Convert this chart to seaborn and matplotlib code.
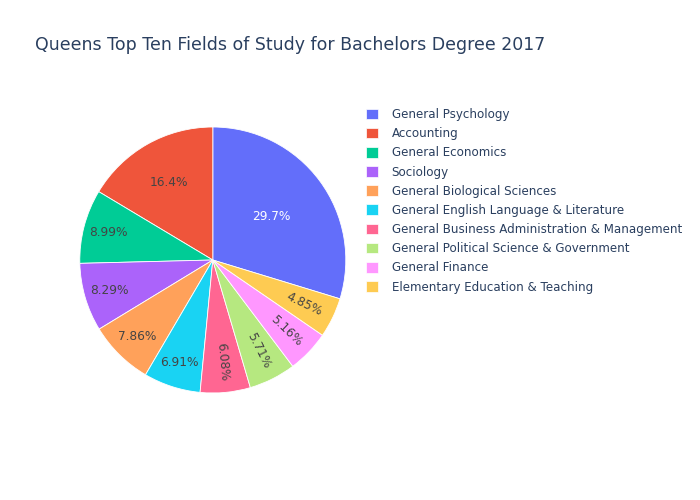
import matplotlib
matplotlib.use('Agg')
import numpy as np
import matplotlib.pyplot as plt
import matplotlib.patches as mpatches
import seaborn as sns

# data (percent share of bachelors degrees)
fields = ['General Psychology', 'Accounting', 'General Economics', 'Sociology',
          'General Biological Sciences', 'General English Language & Literature',
          'General Business Administration & Management',
          'General Political Science & Government', 'General Finance',
          'Elementary Education & Teaching']
shares = [29.7, 16.4, 8.99, 8.29, 7.86, 6.91, 6.08, 5.71, 5.16, 4.85]
colors = ['#636EFA', '#EF553B', '#00CC96', '#AB63FA', '#FFA15A',
          '#19D3F3', '#FF6692', '#B6E880', '#FF97FF', '#FECB52']
title = 'Queens Top Ten Fields of Study for Bachelors Degree 2017'

sns.set_theme(style='white')
plt.rcParams['font.family'] = ['DejaVu Sans']
text_color = '#2a3f5f'

fig = plt.figure(figsize=(7, 5), dpi=100)
ax = fig.add_axes([0.304 - 0.19, 0.48 - 0.266, 0.38, 0.532])

palette = sns.color_palette(colors)
total = sum(shares)
start = 90 - shares[0] / total * 360  # largest slice ends at 12 o'clock

wedges, texts, autotexts = ax.pie(
    shares, colors=palette, startangle=start, counterclock=True,
    autopct=lambda p: f'{p:.3g}%', pctdistance=0.75,
    wedgeprops=dict(edgecolor='white', linewidth=0.6),
    textprops=dict(fontsize=8.7, color='#444444'))

for w, t, s in zip(wedges, autotexts, shares):
    share = s / total * 100
    mid = (w.theta1 + w.theta2) / 2
    if share > 25:
        r = 0.55
        t.set_color('white')
    elif share > 12:
        r = 0.67
    elif share < 6.5:
        r = 0.765
        t.set_rotation(mid - 360)
        t.set_rotation_mode('anchor')
    else:
        r = 0.81
    t.set_position((r * np.cos(np.radians(mid)), r * np.sin(np.radians(mid))))
    t.set_ha('center')
    t.set_va('center')

ax.set_xlim(-1, 1)
ax.set_ylim(-1, 1)
ax.set_aspect('equal')

handles = [mpatches.Patch(facecolor=c, edgecolor='white', linewidth=0.5) for c in colors]
fig.legend(handles, fields, loc='upper left', bbox_to_anchor=(366 / 700, 1 - 108 / 500),
           frameon=False, fontsize=8.55, labelcolor=text_color,
           handlelength=1.0, handleheight=1.0, handletextpad=1.15,
           labelspacing=0.52, borderpad=0, borderaxespad=0)

fig.text(35 / 700, 1 - 45 / 500, title, fontsize=12.5, color=text_color,
         ha='left', va='center')

fig.savefig('out.png', dpi=100, facecolor='white')
